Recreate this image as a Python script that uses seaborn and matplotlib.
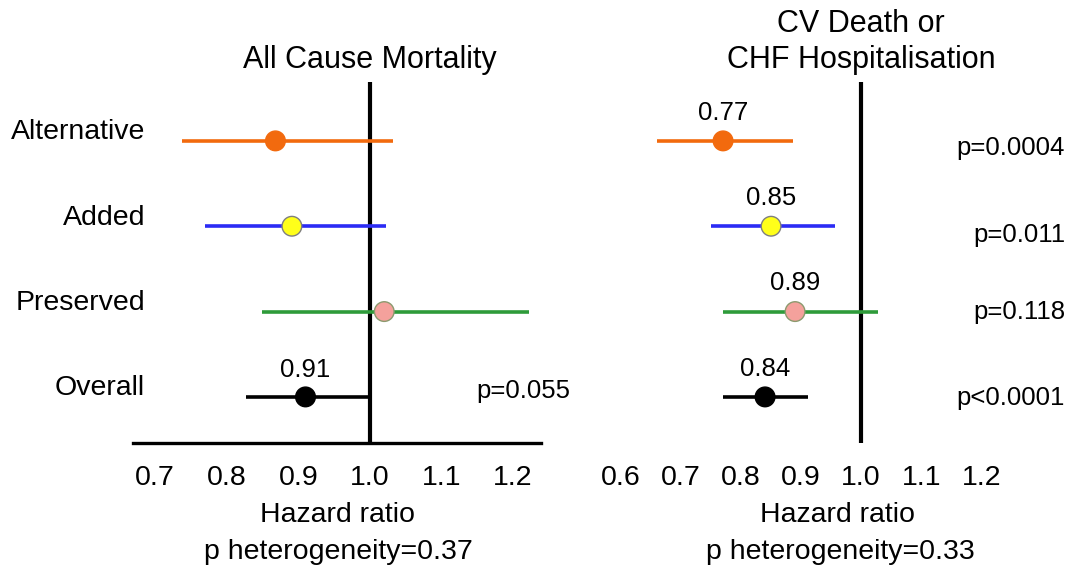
import matplotlib
matplotlib.use("Agg")
import matplotlib.pyplot as plt
import seaborn as sns
import pandas as pd
import matplotlib.transforms as mtransforms

sns.set_theme(style="white")
plt.rcParams['font.family'] = ['Liberation Sans', 'DejaVu Sans']
plt.rcParams['text.color'] = 'black'
plt.rcParams['xtick.color'] = 'black'
plt.rcParams['ytick.color'] = 'black'
plt.rcParams['axes.labelcolor'] = 'black'

# ---- data ----
groups = ["Alternative", "Added", "Preserved", "Overall"]
row_pos = [3, 2, 1, 0]
acm_hr = [0.868, 0.891, 1.02, 0.91]
acm_lo = [0.738, 0.77, 0.849, 0.827]
acm_hi = [1.032, 1.022, 1.222, 1.0]
cv_hr = [0.77, 0.85, 0.89, 0.84]
cv_lo = [0.66, 0.75, 0.77, 0.77]
cv_hi = [0.887, 0.957, 1.028, 0.912]
acm_value_labels = ["", "", "", "0.91"]
cv_value_labels = ["0.77", "0.85", "0.89", "0.84"]
acm_pvals = ["", "", "", "p=0.055"]
cv_pvals = ["p=0.0004", "p=0.011", "p=0.118", "p<0.0001"]
acm_ticks = [0.7, 0.8, 0.9, 1.0, 1.1, 1.2]
cv_ticks = [0.6, 0.7, 0.8, 0.9, 1.0, 1.1, 1.2]
acm_title = "All Cause Mortality"
cv_title = "CV Death or\nCHF Hospitalisation"
acm_het = "p heterogeneity=0.37"
cv_het = "p heterogeneity=0.33"

line_colors = ["#F26A0E", "#2B2BF5", "#2E9B3A", "#000000"]
face_colors = ["#F26A0E", "#FFFF1A", "#F4A19C", "#000000"]
edge_colors = ["#F26A0E", "#7F7F7F", "#8C9A6E", "#000000"]

W, H = 1073, 576
fig = plt.figure(figsize=(W / 100, H / 100), dpi=100)

def px_rect(x0, x1, ytop, ybot):
    return [x0 / W, 1 - ybot / H, (x1 - x0) / W, (ybot - ytop) / H]

ax1 = fig.add_axes(px_rect(133, 541, 82, 443))
ax2 = fig.add_axes(px_rect(600, 1070, 82, 443))

def draw(ax, hr, lo, hi, xlim, ticks, show_spine):
    df = pd.DataFrame({"group": groups, "y": row_pos, "hr": hr, "lo": lo, "hi": hi})
    ax.axvline(1.0, color="black", lw=3.0, zorder=1)
    for i, r in df.iterrows():
        ax.hlines(r["y"], r["lo"], r["hi"], color=line_colors[i], lw=2.6, zorder=2)
    sns.scatterplot(data=df, x="hr", y="y", hue="group", palette=dict(zip(groups, face_colors)),
                    s=200, edgecolor=edge_colors, linewidth=1.0, legend=False, ax=ax, zorder=3)
    ax.set_xlim(*xlim)
    ax.set_ylim(-0.54, 3.69)
    ax.set_yticks([])
    ax.set_xticks(ticks)
    ax.set_xticklabels([f"{t:.1f}" for t in ticks], fontsize=20.5)
    for s in ["top", "right", "left"]:
        ax.spines[s].set_visible(False)
    if show_spine:
        ax.spines["bottom"].set_linewidth(2.4)
        ax.spines["bottom"].set_color("black")
        ax.tick_params(axis="x", direction="out", length=8, width=2, color="black", pad=8)
    else:
        ax.spines["bottom"].set_visible(False)
        ax.tick_params(axis="x", length=0, pad=16)
    ax.set_xlabel("")
    ax.set_ylabel("")

draw(ax1, acm_hr, acm_lo, acm_hi, (0.669, 1.239), acm_ticks, True)
draw(ax2, cv_hr, cv_lo, cv_hi, (0.565, 1.348), cv_ticks, False)

# row labels
for g, y in zip(groups, row_pos):
    ax1.text(0.03, y + 0.1, g, transform=mtransforms.blended_transform_factory(ax1.transAxes, ax1.transData),
             ha="right", va="center", fontsize=20.5, clip_on=False)

# value labels
for x, y, t in zip(acm_hr, row_pos, acm_value_labels):
    if t:
        ax1.text(x, y + 0.32, t, ha="center", va="center", fontsize=18.5)
for x, y, t in zip(cv_hr, row_pos, cv_value_labels):
    ax2.text(x, y + 0.33, t, ha="center", va="center", fontsize=18.5)

# p-values
for y, t in zip(row_pos, acm_pvals):
    if t:
        ax1.text(1.071, y + 0.07, t, transform=mtransforms.blended_transform_factory(ax1.transAxes, ax1.transData),
                 ha="right", va="center", fontsize=18.5, clip_on=False)
cv_p_offsets = [-0.08, -0.1, -0.01, -0.01]
for y, t, o in zip(row_pos, cv_pvals, cv_p_offsets):
    ax2.text(1.34, y + o, t, ha="right", va="center", fontsize=18.5, clip_on=False)

# titles centred on HR = 1
tr1 = mtransforms.blended_transform_factory(ax1.transData, fig.transFigure)
ax1.text(1.0, 1 - 60 / H, acm_title, transform=tr1, ha="center", va="center", fontsize=22)
tr2 = mtransforms.blended_transform_factory(ax2.transData, fig.transFigure)
ax2.text(1.0, 1 - 42 / H, cv_title, transform=tr2, ha="center", va="center", fontsize=22, linespacing=1.3)

# x labels
fig.text(338 / W, 1 - 515 / H, "Hazard ratio", ha="center", va="center", fontsize=20.5)
fig.text(338 / W, 1 - 552 / H, acm_het, ha="center", va="center", fontsize=20.5)
fig.text(838 / W, 1 - 515 / H, "Hazard ratio", ha="center", va="center", fontsize=20.5)
fig.text(840 / W, 1 - 552 / H, cv_het, ha="center", va="center", fontsize=20.5)

fig.savefig("out.png", dpi=100, facecolor="white")
